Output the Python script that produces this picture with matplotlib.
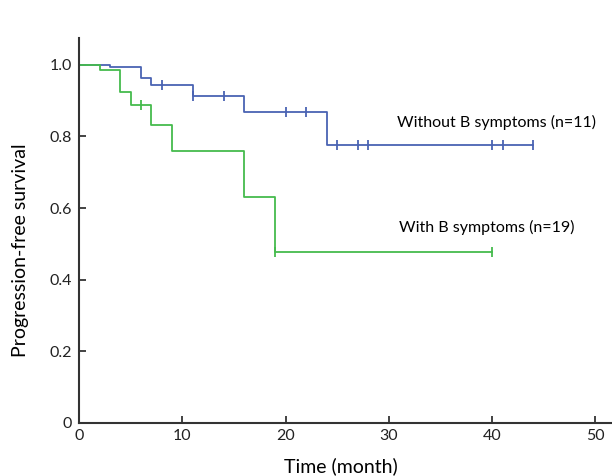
import matplotlib
matplotlib.use("Agg")
import matplotlib.pyplot as plt

# Without B symptoms (n=11)
t_without = [0, 3, 6, 7, 11, 16, 24, 44]
s_without = [1.0, 0.995, 0.962, 0.944, 0.913, 0.867, 0.775, 0.775]
cens_without_t = [8, 11, 14, 20, 22, 25, 27, 28, 40, 41, 44]

# With B symptoms (n=19)
t_with = [0, 2, 4, 5, 7, 9, 16, 19, 40]
s_with = [1.0, 0.986, 0.925, 0.887, 0.831, 0.76, 0.63, 0.477, 0.477]
cens_with_t = [6, 19, 40]

x_ticks = [0, 10, 20, 30, 40, 50]
y_ticks = [0, 0.2, 0.4, 0.6, 0.8, 1.0]
y_ticklabels = ["0", "0.2", "0.4", "0.6", "0.8", "1.0"]

blue = "#4a63b3"
green = "#45bb4d"

plt.rcParams['font.family'] = ['Lato', 'DejaVu Sans']

fig = plt.figure(figsize=(6.12, 4.76), dpi=100)
ax = fig.add_axes([79/612, 1-423/476, 1-79/612, (423-38)/476])


def surv_at(ts, ss, t):
    v = ss[0]
    for ti, si in zip(ts, ss):
        if ti <= t:
            v = si
    return v

ax.step(t_without, s_without, where='post', color=blue, lw=1.3)
ax.plot(cens_without_t, [surv_at(t_without, s_without, c) for c in cens_without_t],
        ls='none', marker='|', ms=7, mew=1.3, color=blue)
ax.step(t_with, s_with, where='post', color=green, lw=1.3)
ax.plot(cens_with_t, [surv_at(t_with, s_with, c) for c in cens_with_t],
        ls='none', marker='|', ms=7, mew=1.3, color=green)

ax.set_xlim(0, 51.6)
ax.set_ylim(0, 1.075)
ax.set_xticks(x_ticks)
ax.set_yticks(y_ticks)
ax.set_yticklabels(y_ticklabels)
ax.tick_params(direction='in', length=5, width=1.2, labelsize=11.5, colors='#222222')
ax.tick_params(axis='y', pad=5)
ax.tick_params(axis='x', pad=4)
for s in ['top', 'right']:
    ax.spines[s].set_visible(False)
for s in ['left', 'bottom']:
    ax.spines[s].set_linewidth(1.5)
    ax.spines[s].set_color('#333333')

ax.set_xlabel("Time (month)", fontsize=14)
ax.set_ylabel("Progression-free survival", fontsize=14)
ax.xaxis.set_label_coords((341-79)/533, -(466-423)/385)
ax.xaxis.label.set_va('center')
ax.yaxis.set_label_coords((20-79)/533, (423-250)/385)
ax.yaxis.label.set_va('center')

ax.text(30.8, 0.84, "Without B symptoms (n=11)", fontsize=11.5, va='center', ha='left')
ax.text(31.0, 0.547, "With B symptoms (n=19)", fontsize=11.5, va='center', ha='left')

fig.savefig("out.png", dpi=100)
